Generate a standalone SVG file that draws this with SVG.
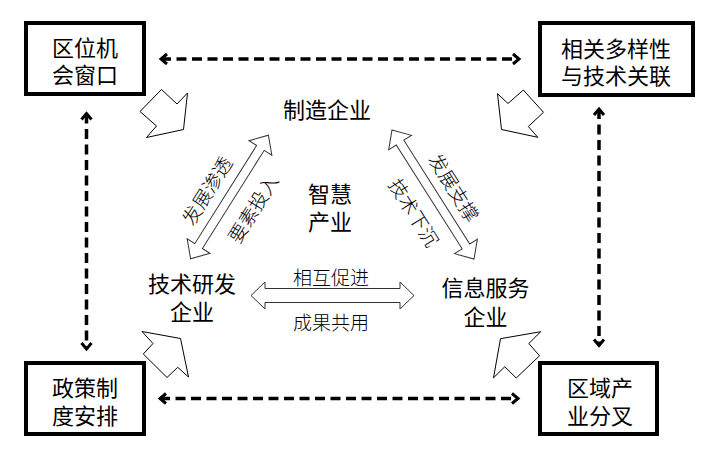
<svg xmlns="http://www.w3.org/2000/svg" width="706" height="450" viewBox="0 0 706 450">
<defs>
<style>
.box{fill:#fff;stroke:#000;stroke-width:4}
.t{font-family:"Noto Sans CJK SC","Noto Sans",sans-serif;font-size:22px;fill:#000;text-anchor:middle;dominant-baseline:central}
.s{font-family:"Noto Sans CJK SC","Noto Sans",sans-serif;font-size:19px;font-weight:300;fill:#000;text-anchor:middle;dominant-baseline:central}
.dash{fill:none;stroke:#000;stroke-width:3.5;stroke-dasharray:10 5.5}
.blk{fill:#fff;stroke:#000;stroke-width:1;stroke-linejoin:miter}
.dbl{fill:#fff;stroke:#333;stroke-width:1}
</style>
<marker id="chev" markerUnits="userSpaceOnUse" markerWidth="14" markerHeight="14" refX="0" refY="0" viewBox="-8 -7 10 14" orient="auto-start-reverse">
<path d="M-6,-5 L0,0 L-6,5" fill="none" stroke="#000" stroke-width="3"/>
</marker>
</defs>

<g id="connectors">
<path class="dash" d="M161,59 L519,59" marker-start="url(#chev)" marker-end="url(#chev)"/>
<path class="dash" d="M160,398.5 L518,398.5" marker-start="url(#chev)" marker-end="url(#chev)"/>
<path class="dash" d="M86.5,113.5 L86.5,349" marker-start="url(#chev)" marker-end="url(#chev)"/>
<path class="dash" d="M599,109 L599,345.5" marker-start="url(#chev)" marker-end="url(#chev)"/>

<polygon class="blk" points="161.5,89.5 177,104 187.5,93 183.5,129.5 146.5,137.5 156.5,126 140,111.5"/>
<polygon class="blk" points="497.5,93.7 508,103.5 523.3,90 543.5,112.3 528.3,126.5 537.8,137.3 501.5,129.5"/>
<polygon class="blk" points="180.5,338.5 142,331.5 153,343.5 143.3,354 167,377.5 177.7,367.3 188.5,377"/>
<polygon class="blk" points="500.5,338.7 540.7,331.7 528.8,343.5 539.5,355.8 516.2,378 504.8,366.7 493.5,377.8"/>

<polygon class="dbl" points="251,295.5 265,282 265,288.5 400,288.5 400,282 414,295.5 400,309 400,302.5 265,302.5 265,309"/>
<polygon class="dbl" transform="translate(229.5,197) rotate(-57.8)" points="-73,0 -58,-13.5 -58,-4.5 58,-4.5 58,-13.5 73,0 58,13.5 58,4.5 -58,4.5 -58,13.5"/>
<polygon class="dbl" transform="translate(433,194.5) rotate(57.6)" points="-76.5,0 -61.5,-13.5 -61.5,-4.5 61.5,-4.5 61.5,-13.5 76.5,0 61.5,13.5 61.5,4.5 -61.5,4.5 -61.5,13.5"/>

<text class="s" x="331" y="276">相互促进</text>
<text class="s" x="331" y="321">成果共用</text>
<text class="s" transform="translate(206,190) rotate(-58)">发展渗透</text>
<text class="s" transform="translate(252,208) rotate(-58)">要素投入</text>
<text class="s" transform="translate(455,187) rotate(58)">发展支撑</text>
<text class="s" transform="translate(415,212) rotate(58)">技术下沉</text>
</g>

<g id="node-quwei">
<rect class="box" x="26" y="23" width="118" height="71"/>
<text class="t" x="85" y="46">区位机<tspan x="85" dy="27">会窗口</tspan></text>
</g>
<g id="node-xiangguan">
<rect class="box" x="540" y="23" width="153" height="72"/>
<text class="t" x="616" y="47">相关多样性<tspan x="616" dy="27">与技术关联</tspan></text>
</g>
<g id="node-zhengce">
<rect class="box" x="26" y="363" width="118" height="71"/>
<text class="t" x="85" y="386">政策制<tspan x="85" dy="28">度安排</tspan></text>
</g>
<g id="node-quyu">
<rect class="box" x="540" y="363" width="117" height="71"/>
<text class="t" x="600" y="386">区域产<tspan x="600" dy="28">业分叉</tspan></text>
</g>

<g id="node-zhizao">
<text class="t" x="327" y="108">制造企业</text>
</g>
<g id="node-zhihui">
<text class="t" x="330" y="192">智慧<tspan x="330" dy="28">产业</tspan></text>
</g>
<g id="node-jishu">
<text class="t" x="192" y="282">技术研发<tspan x="192" dy="28">企业</tspan></text>
</g>
<g id="node-xinxi">
<text class="t" x="485.5" y="286">信息服务<tspan x="485.5" dy="29">企业</tspan></text>
</g>
</svg>
